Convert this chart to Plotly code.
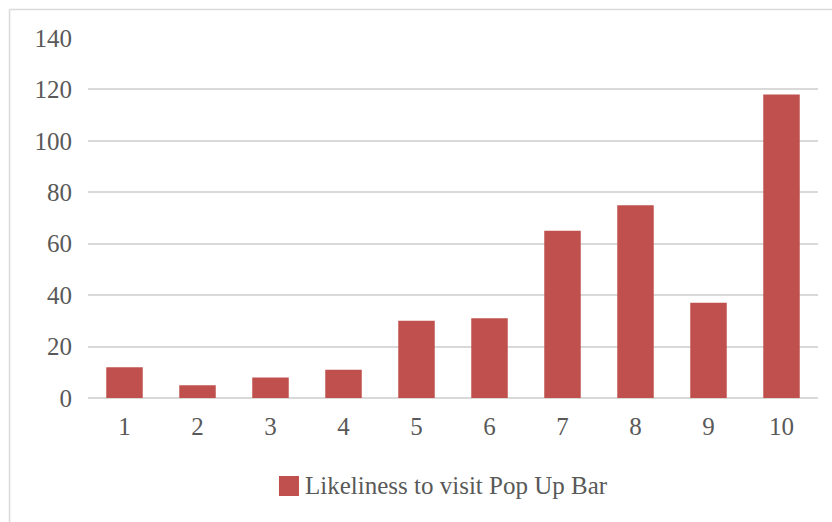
import plotly.graph_objects as go

# Survey responses: rating (1-10) and number of respondents
ratings = ["1", "2", "3", "4", "5", "6", "7", "8", "9", "10"]
counts = [12, 5, 8, 11, 30, 31, 65, 75, 37, 118]
series_name = "Likeliness to visit Pop Up Bar"
y_ticks = [0, 20, 40, 60, 80, 100, 120, 140]

BAR_RED = "#C0504D"
GRID = "#D9D9D9"
TEXT = "#595959"
FONT = "Liberation Serif, Times New Roman, serif"
FONT_SIZE = 25

fig = go.Figure(
    go.Bar(
        x=ratings,
        y=counts,
        name=series_name,
        marker=dict(color=BAR_RED, line=dict(width=0)),
        showlegend=False,
    )
)

# Legend key drawn as a swatch + label below the plot area
legend_shapes = [
    dict(type="rect", xref="paper", yref="paper",
         x0=0.2616, x1=0.2890, y0=-0.2722, y1=-0.2167,
         fillcolor=BAR_RED, line=dict(width=0)),
]
legend_labels = [
    dict(xref="paper", yref="paper", x=0.2945, y=-0.2444,
         xanchor="left", yanchor="middle", showarrow=False,
         text=series_name,
         font=dict(family=FONT, size=FONT_SIZE, color=TEXT)),
]

fig.update_layout(
    width=832,
    height=522,
    margin=dict(l=88, r=14, t=38, b=124),
    paper_bgcolor="white",
    plot_bgcolor="white",
    bargap=0.5,
    font=dict(family=FONT, size=FONT_SIZE, color=TEXT),
    showlegend=False,
    xaxis=dict(
        type="category",
        showgrid=False,
        showline=False,
        ticks="",
        ticklabelstandoff=11,
        tickfont=dict(family=FONT, size=FONT_SIZE, color=TEXT),
    ),
    yaxis=dict(
        range=[0, 140],
        tickvals=y_ticks,
        showgrid=True,
        gridcolor=GRID,
        gridwidth=1.5,
        zeroline=True,
        zerolinecolor=GRID,
        zerolinewidth=1.5,
        showline=False,
        ticks="",
        ticklabelstandoff=15,
        tickfont=dict(family=FONT, size=FONT_SIZE, color=TEXT),
    ),
    shapes=[
        # chart area frame: top and left edges
        dict(type="line", xref="paper", yref="paper",
             x0=-0.1075, x1=1.05, y0=1.079, y1=1.079,
             line=dict(color=GRID, width=1.5)),
        dict(type="line", xref="paper", yref="paper",
             x0=-0.1075, x1=-0.1075, y0=1.079, y1=-0.4,
             line=dict(color=GRID, width=1.5)),
    ] + legend_shapes,
    annotations=legend_labels,
)

fig.write_html("out.html")
